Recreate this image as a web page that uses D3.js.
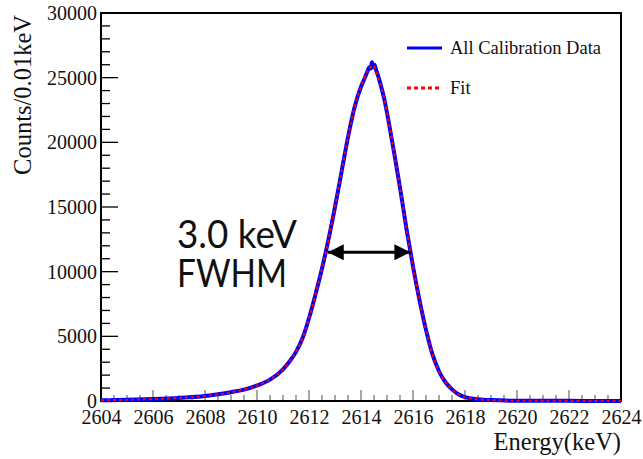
<!DOCTYPE html>
<html>
<head>
<meta charset="utf-8">
<script src="https://cdn.jsdelivr.net/npm/d3@7"></script>
<style>
  body { margin: 0; background: #fff; }
  svg text { font-family: "Liberation Serif", "DejaVu Serif", serif; }
</style>
</head>
<body>
<div id="chart"></div>
<script>
// Energia (keV) y cuentas
const dataEnergy = [2604, 2605, 2606, 2607, 2608, 2608.5, 2609, 2609.5, 2610, 2610.5, 2611, 2611.25,
  2611.5, 2611.75, 2612, 2612.25, 2612.5, 2612.75, 2613, 2613.25, 2613.5, 2613.75, 2614, 2614.15,
  2614.25, 2614.32, 2614.38, 2614.42, 2614.47, 2614.52, 2614.58, 2614.65, 2614.75, 2614.9, 2615.1,
  2615.3, 2615.5, 2615.75, 2616, 2616.25, 2616.5, 2616.75, 2617, 2617.25, 2617.5, 2617.75, 2618,
  2618.5, 2619, 2620, 2621, 2622, 2623, 2624];
const dataCounts = [60, 90, 150, 240, 390, 520, 680, 880, 1200, 1650, 2450, 3050,
  3800, 4850, 6400, 8250, 10250, 12500, 15000, 17700, 20400, 22700, 24300, 25000,
  25500, 25800, 25700, 26200, 25800, 26000, 25600, 25200, 24500, 23300, 21200,
  18900, 16500, 13300, 10400, 7800, 5500, 3600, 2300, 1450, 900, 520, 300,
  140, 70, 20, 12, 10, 9, 8];

const fitEnergy = [2604, 2605, 2606, 2607, 2608, 2608.5, 2609, 2609.5, 2610, 2610.5, 2611, 2611.25,
  2611.5, 2611.75, 2612, 2612.25, 2612.5, 2612.75, 2613, 2613.25, 2613.5, 2613.75, 2614, 2614.25,
  2614.45, 2614.65, 2614.9, 2615.1, 2615.3, 2615.5, 2615.75, 2616, 2616.25, 2616.5, 2616.75, 2617,
  2617.25, 2617.5, 2617.75, 2618, 2618.5, 2619, 2620, 2622, 2624];
const fitCounts = [60, 90, 150, 240, 390, 520, 680, 880, 1200, 1650, 2450, 3050,
  3800, 4850, 6400, 8250, 10250, 12500, 15000, 17700, 20400, 22700, 24300, 25500,
  25950, 25100, 23300, 21200, 18900, 16500, 13300, 10400, 7800, 5500, 3600, 2300,
  1450, 900, 520, 300, 140, 70, 20, 10, 8];

const xTicks = [2604, 2606, 2608, 2610, 2612, 2614, 2616, 2618, 2620, 2622, 2624];
const yTicks = [0, 5000, 10000, 15000, 20000, 25000, 30000];
const fwhmEnds = [2612.72, 2615.9];
const fwhmLevel = 11500;

const width = 643, height = 459;
const margin = { left: 101, right: 22, top: 13, bottom: 58 };

const svg = d3.select("#chart").append("svg")
  .attr("width", width).attr("height", height);

const x = d3.scaleLinear().domain([2604, 2624]).range([margin.left, width - margin.right]);
const y = d3.scaleLinear().domain([0, 30000]).range([height - margin.bottom, margin.top]);

// Ticks menores
const xMinor = d3.range(2604, 2624.01, 0.5);
const yMinor = d3.range(0, 30001, 1000);

svg.append("g").selectAll("line").data(xMinor).enter().append("line")
  .attr("x1", d => x(d)).attr("x2", d => x(d))
  .attr("y1", y(0)).attr("y2", d => y(0) - (xTicks.includes(d) ? 11 : 6))
  .attr("stroke", "#777").attr("stroke-width", 1.3);

svg.append("g").selectAll("line").data(yMinor).enter().append("line")
  .attr("x1", x(2604)).attr("x2", d => x(2604) + (yTicks.includes(d) ? 17 : 9))
  .attr("y1", d => y(d)).attr("y2", d => y(d))
  .attr("stroke", "#000").attr("stroke-width", 1.3);

// Ejes con d3.axis para las etiquetas
const xAxis = svg.append("g")
  .attr("transform", `translate(0,${y(0)})`)
  .call(d3.axisBottom(x).tickValues(xTicks).tickSize(0).tickPadding(9).tickFormat(d3.format("d")));
xAxis.select(".domain").remove();
xAxis.selectAll("text").attr("font-size", 20).attr("fill", "#111")
  .attr("font-family", "Liberation Serif");

const yAxis = svg.append("g")
  .attr("transform", `translate(${x(2604)},0)`)
  .call(d3.axisLeft(y).tickValues(yTicks).tickSize(0).tickPadding(4).tickFormat(d3.format("d")));
yAxis.select(".domain").remove();
yAxis.selectAll("text").attr("font-size", 20).attr("fill", "#111")
  .attr("font-family", "Liberation Serif");

// Marco
svg.append("rect")
  .attr("x", x(2604)).attr("y", y(30000))
  .attr("width", x(2624) - x(2604)).attr("height", y(0) - y(30000))
  .attr("fill", "none").attr("stroke", "#000").attr("stroke-width", 2);

// Curvas
const line = d3.line().curve(d3.curveMonotoneX);

svg.append("path")
  .attr("d", line(dataEnergy.map((e, i) => [x(e), y(dataCounts[i])])))
  .attr("fill", "none").attr("stroke", "#0000ff").attr("stroke-width", 4)
  .attr("stroke-linejoin", "round");

svg.append("path")
  .attr("d", line(fitEnergy.map((e, i) => [x(e), y(fitCounts[i])])))
  .attr("fill", "none").attr("stroke", "#ff0000").attr("stroke-width", 2)
  .attr("stroke-dasharray", "3,3");

// Titulos de ejes
svg.append("text")
  .attr("x", x(2624)).attr("y", 450)
  .attr("text-anchor", "end").attr("font-size", 24.5).attr("fill", "#111")
  .text("Energy(keV)");

svg.append("text")
  .attr("transform", "translate(31,15) rotate(-90)")
  .attr("text-anchor", "end").attr("font-size", 24.5).attr("fill", "#111")
  .text("Counts/0.01keV");

// Leyenda
const legend = svg.append("g");
legend.append("line").attr("x1", 407).attr("x2", 442).attr("y1", 48).attr("y2", 48)
  .attr("stroke", "#0000ff").attr("stroke-width", 3);
legend.append("text").attr("x", 450).attr("y", 54).attr("font-size", 18.5).attr("fill", "#111")
  .text("All Calibration Data");
legend.append("line").attr("x1", 407).attr("x2", 442).attr("y1", 88).attr("y2", 88)
  .attr("stroke", "#ff0000").attr("stroke-width", 3).attr("stroke-dasharray", "4,3");
legend.append("text").attr("x", 450).attr("y", 94).attr("font-size", 18.5).attr("fill", "#111")
  .text("Fit");

// Anotacion FWHM
svg.append("defs").append("marker")
  .attr("id", "head").attr("viewBox", "0 0 10 10")
  .attr("refX", 10).attr("refY", 5)
  .attr("markerWidth", 5).attr("markerHeight", 5)
  .attr("markerUnits", "strokeWidth")
  .attr("orient", "auto-start-reverse")
  .append("path").attr("d", "M0,0 L10,5 L0,10 z").attr("fill", "#000");

svg.append("line")
  .attr("x1", x(fwhmEnds[0])).attr("x2", x(fwhmEnds[1]))
  .attr("y1", y(fwhmLevel)).attr("y2", y(fwhmLevel))
  .attr("stroke", "#000").attr("stroke-width", 3.2)
  .attr("marker-start", "url(#head)").attr("marker-end", "url(#head)");

svg.append("text").attr("x", 177).attr("y", 248)
  .attr("font-size", 39).attr("fill", "#111")
  .attr("textLength", 120).attr("lengthAdjust", "spacingAndGlyphs")
  .style("font-family", "Lato")
  .text("3.0 keV");
svg.append("text").attr("x", 177).attr("y", 287)
  .attr("font-size", 39).attr("fill", "#111")
  .attr("textLength", 110).attr("lengthAdjust", "spacingAndGlyphs")
  .style("font-family", "Lato")
  .text("FWHM");
</script>
</body>
</html>
